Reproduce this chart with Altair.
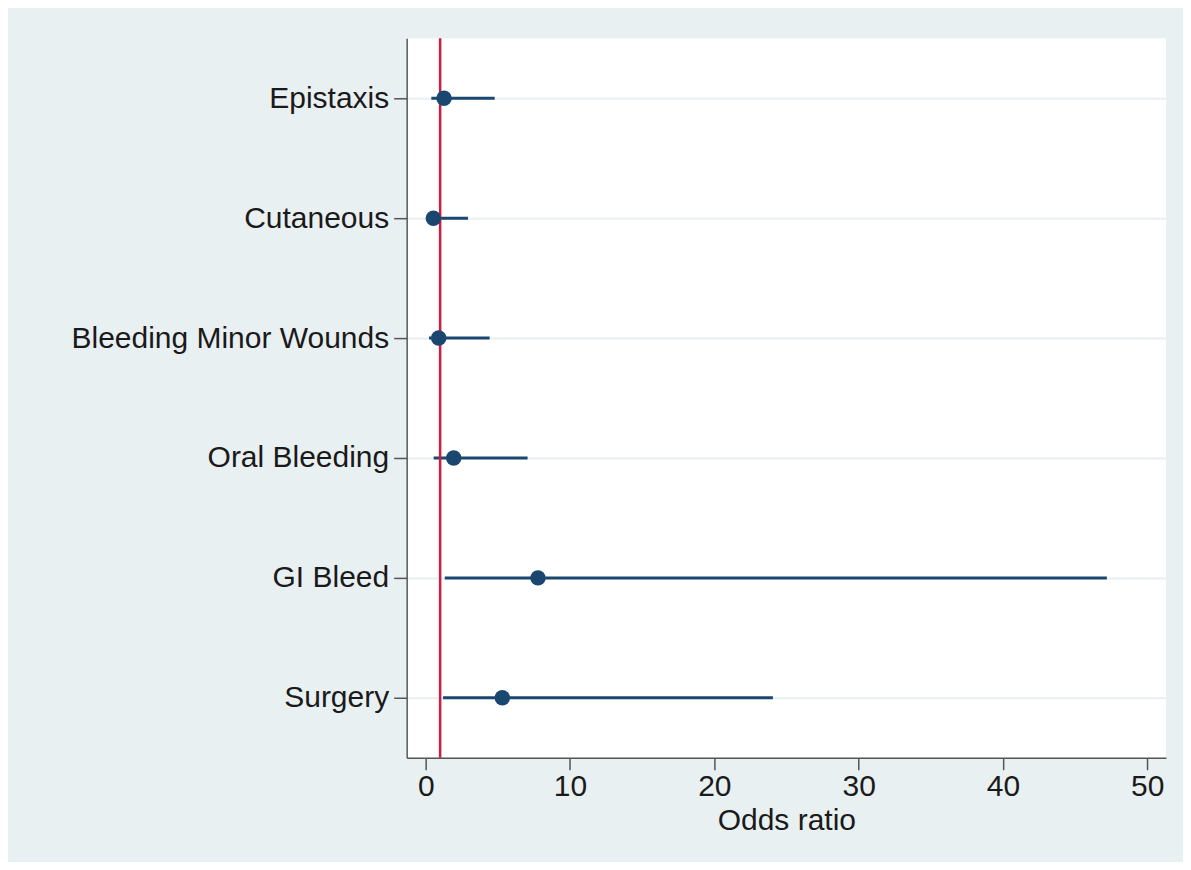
import altair as alt
import pandas as pd

categories = ["Epistaxis", "Cutaneous", "Bleeding Minor Wounds", "Oral Bleeding", "GI Bleed", "Surgery"]
odds_ratio = [1.27, 0.53, 0.90, 1.94, 7.78, 5.31]
ci_low = [0.39, 0.20, 0.23, 0.55, 1.32, 1.20]
ci_high = [4.78, 2.93, 4.43, 7.06, 47.2, 24.06]
x_ticks = [0, 10, 20, 30, 40, 50]
ref_value = [1]

df = pd.DataFrame({"cat": categories, "or": odds_ratio, "lo": ci_low, "hi": ci_high})
ref = pd.DataFrame({"v": ref_value})

xscale = alt.Scale(domain=[-1.32, 51.3], nice=False, zero=False)
yenc = alt.Y("cat:N", sort=categories, scale=alt.Scale(type="point", padding=0.5),
             axis=alt.Axis(title=None, grid=True, gridColor="#e9eff1", gridWidth=2,
                           labelFontSize=30, labelFont="Liberation Sans", labelColor="#1a1a1a",
                           labelLimit=500,
                           tickSize=13, tickColor="#555555", tickWidth=1.5, labelPadding=5,
                           domainColor="#555555", domainWidth=1.5))

base = alt.Chart(df)

ci = base.mark_rule(color="#1a476f", strokeWidth=3).encode(
    x=alt.X("lo:Q", scale=xscale,
            axis=alt.Axis(title="Odds ratio", values=x_ticks, grid=False,
                          labelFontSize=30, titleFontSize=30, labelFont="Liberation Sans",
                          titleFont="Liberation Sans", titleFontWeight="normal",
                          labelColor="#1a1a1a", titleColor="#1a1a1a",
                          tickSize=12, tickColor="#555555", tickWidth=1.5, labelPadding=2,
                          titlePadding=4, domainColor="#555555", domainWidth=1.5,
                          labelFlush=False)),
    x2="hi:Q",
    y=yenc,
)

pts = base.mark_circle(color="#1a476f", opacity=1, size=240).encode(
    x=alt.X("or:Q", scale=xscale),
    y=alt.Y("cat:N", sort=categories),
)

rule = alt.Chart(ref).mark_rule(color="#d01c3f", strokeWidth=2.5).encode(
    x=alt.X("v:Q", scale=xscale)
)

chart = alt.layer(ci, rule, pts).properties(
    width=760, height=720,
    autosize=alt.AutoSizeParams(type="none"),
    padding={"left": 399, "top": 30, "right": 17, "bottom": 104},
    background="#e9f0f2",
).configure_view(fill="white", stroke=None)

chart.save("out.html", embed_options={"renderer": "svg", "actions": False})
